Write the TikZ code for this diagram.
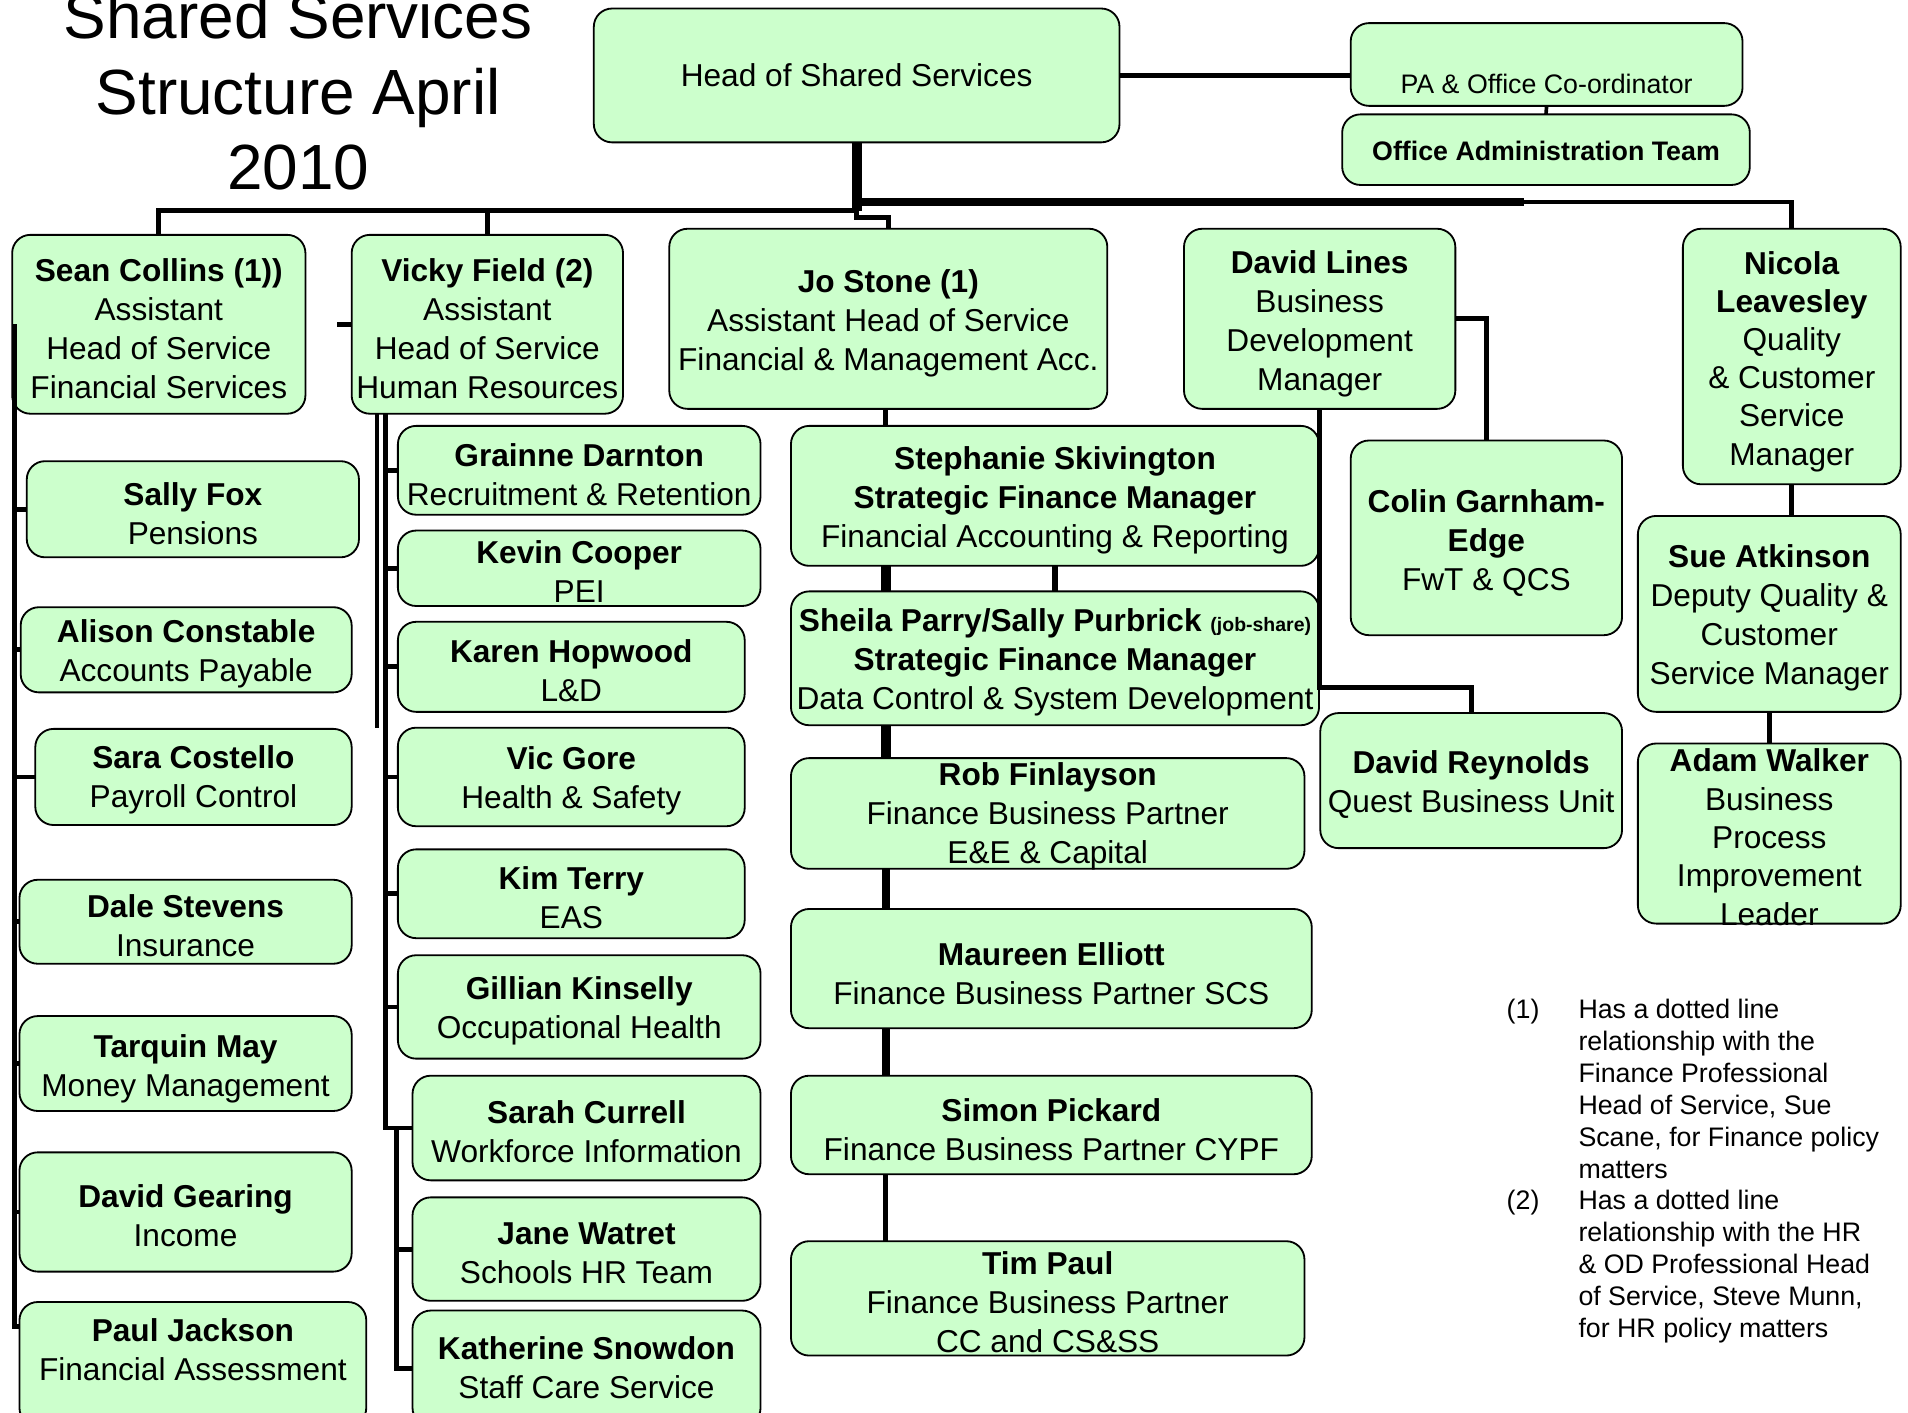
\documentclass[tikz,border=0pt]{standalone}
\usepackage{fontspec}
\setmainfont{Liberation Sans}
\usetikzlibrary{calc}
\definecolor{boxgreen}{RGB}{204,255,204}
\tikzset{
  box/.style={draw=black, line width=1.5pt, fill=boxgreen, rounded corners=15pt, inner sep=0pt, outer sep=0pt},
  txt/.style={align=center, inner sep=0pt, font=\fontsize{26}{32}\selectfont},
  small/.style={font=\fontsize{22}{26}\selectfont},
  conn/.style={line width=4pt},
  trunk/.style={line width=8pt},
  titletxt/.style={anchor=base, inner sep=0pt, font=\fontsize{52.5}{62}\selectfont},
  legend/.style={inner sep=0pt, font=\fontsize{22}{26.2}\selectfont},
}
\newcommand\obox[8][]{%
  \pgfmathsetmacro\obw{#5-#3}%
  \pgfmathsetmacro\obh{#6-#4}%
  \node[box, minimum width=\obw pt, minimum height=\obh pt] (#2) at ({(#3+#5)/2},{(#4+#6)/2}) {};
  \node[txt,#1] (#2-t) at ({(#3+#5)/2},{#7+3}) {#8};
}
\begin{document}
\begin{tikzpicture}[x=1pt,y=-1pt]
\useasboundingbox (0,0) rectangle (1568,1161);

% title
\node[titletxt] (t1) at (245,32) {Shared Services};
\node[titletxt] (t2) at (245,94) {Structure April};
\node[titletxt] (t3) at (245,156) {2010};

% top level
\obox{head}{488}{7}{920}{117}{59}{Head of Shared Services}
\obox[small]{pa}{1110}{19}{1432}{87}{66}{PA \& Office Co-ordinator}
\obox[small]{admin}{1103}{94}{1438}{152}{121}{\textbf{Office Administration Team}}

% second level
\obox{sean}{10}{193}{251}{340}{267}{\textbf{Sean Collins (1))}\\Assistant\\Head of Service\\Financial Services}
\obox{vicky}{289}{193}{512}{340}{267}{\textbf{Vicky Field (2)}\\Assistant\\Head of Service\\Human Resources}
\obox{jo}{550}{188}{910}{336}{263}{\textbf{Jo Stone (1)}\\Assistant Head of Service\\Financial \& Management Acc.}
\obox{dlines}{973}{188}{1196}{336}{263}{\textbf{David Lines}\\Business\\Development\\Manager}
\obox[font=\fontsize{26}{31.4}\selectfont]{nicola}{1383}{188}{1562}{398}{294}{\textbf{Nicola}\\\textbf{Leavesley}\\Quality\\\& Customer\\Service\\Manager}

% financial services column
\obox{sally}{22}{379}{295}{458}{419}{\textbf{Sally Fox}\\Pensions}
\obox{alison}{17}{499}{289}{569}{534}{\textbf{Alison Constable}\\Accounts Payable}
\obox{sara}{29}{599}{289}{678}{638}{\textbf{Sara Costello}\\Payroll Control}
\obox{dale}{16}{723}{289}{792}{758}{\textbf{Dale Stevens}\\Insurance}
\obox{tarquin}{16}{835}{289}{913}{875}{\textbf{Tarquin May}\\Money Management}
\obox{gearing}{16}{947}{289}{1045}{996}{\textbf{David Gearing}\\Income}
\obox{paul}{16}{1070}{301}{1172}{1106}{\textbf{Paul Jackson}\\Financial Assessment}

% HR column
\obox{grainne}{327}{350}{625}{423}{387}{\textbf{Grainne Darnton}\\Recruitment \& Retention}
\obox{kevin}{327}{436}{625}{498}{467}{\textbf{Kevin Cooper}\\PEI}
\obox{karen}{327}{511}{612}{585}{548}{\textbf{Karen Hopwood}\\L\&D}
\obox{vic}{327}{598}{612}{679}{639}{\textbf{Vic Gore}\\Health \& Safety}
\obox{kim}{327}{698}{612}{771}{735}{\textbf{Kim Terry}\\EAS}
\obox{gillian}{327}{785}{625}{870}{828}{\textbf{Gillian Kinselly}\\Occupational Health}
\obox{sarah}{339}{884}{625}{970}{927}{\textbf{Sarah Currell}\\Workforce Information}
\obox{jane}{339}{984}{625}{1069}{1027}{\textbf{Jane Watret}\\Schools HR Team}
\obox{katherine}{339}{1077}{625}{1172}{1121}{\textbf{Katherine Snowdon}\\Staff Care Service}

% finance column
\obox{steph}{650}{350}{1084}{465}{408}{\textbf{Stephanie Skivington}\\\textbf{Strategic Finance Manager}\\Financial Accounting \& Reporting}
\obox{sheila}{650}{486}{1084}{596}{541}{\textbf{Sheila Parry/Sally Purbrick} {\fontsize{16}{16}\selectfont\textbf{(job-share)}}\\\textbf{Strategic Finance Manager}\\Data Control \& System Development}
\obox{rob}{650}{623}{1072}{714}{668}{\textbf{Rob Finlayson}\\Finance Business Partner\\E\&E \& Capital}
\obox{maureen}{650}{747}{1078}{845}{797}{\textbf{Maureen Elliott}\\Finance Business Partner SCS}
\obox{simon}{650}{884}{1078}{965}{925}{\textbf{Simon Pickard}\\Finance Business Partner CYPF}
\obox{tim}{650}{1020}{1072}{1114}{1067}{\textbf{Tim Paul}\\Finance Business Partner\\CC and CS\&SS}

% business development / quality
\obox{colin}{1110}{362}{1333}{522}{443}{\textbf{Colin Garnham-}\\\textbf{Edge}\\FwT \& QCS}
\obox{dreyn}{1085}{586}{1333}{697}{642}{\textbf{David Reynolds}\\Quest Business Unit}
\obox{sue}{1346}{424}{1562}{585}{505}{\textbf{Sue Atkinson}\\Deputy Quality \&\\Customer\\Service Manager}
\obox[font=\fontsize{26}{31.5}\selectfont]{adam}{1346}{611}{1562}{759}{685}{\textbf{Adam Walker}\\Business\\Process\\Improvement\\Leader}

% ---- connectors ----
\coordinate (bar) at (704,173);
\coordinate (rbar) at (704,166);
\coordinate (rbarend) at (1252,166);
\draw[trunk] (head.south) -- (bar);
\draw[conn] (bar) -| (sean.north);
\draw[conn] (bar) -| (vicky.north);
\draw[conn] (bar) -- ++(0,6) -| (jo.north);
\draw[conn] (rbar) -| (nicola.north);
\draw[line width=6pt] (rbar) -- (rbarend);
\draw[conn] (head.east) -- (head.east -| pa.west);
\draw[line width=3pt] (pa.south) -- (admin.north);

% Sean's column
\coordinate (sx) at (12,0);
\draw[conn] (sean.west -| sx) |- ([yshift=31pt]paul.west);
\foreach \b in {sally,alison,sara,dale,tarquin,gearing}
  \draw[conn] (\b.west -| sx) -- (\b.west);
\draw[conn] (vicky.west) -- ([xshift=-12pt]vicky.west);

% Vicky's column
\coordinate (hx0) at (310,0);
\coordinate (hx) at (317,0);
\coordinate (hx2) at (326,0);
\draw[line width=3pt] (vicky.south -| hx0) -- (vic.north -| hx0);
\draw[conn] (vicky.south -| hx) |- (sarah.west);
\foreach \b in {grainne,kevin,karen,vic,kim,gillian}
  \draw[conn] (\b.west -| hx) -- (\b.west);
\draw[conn] (sarah.west -| hx2) |- (katherine.west);
\draw[conn] (jane.west -| hx2) -- (jane.west);

% Jo's column
\coordinate (jx) at (728,0);
\draw[conn] (jo.south -| jx) -- (steph.north -| jx);
\draw[trunk] (steph.south -| jx) -- (sheila.north -| jx);
\draw[line width=5pt] (steph.south) -- (sheila.north);
\draw[trunk] (sheila.south -| jx) -- (rob.north -| jx);
\draw[line width=6pt] (rob.south -| jx) -- (maureen.north -| jx);
\draw[line width=6pt] (maureen.south -| jx) -- (simon.north -| jx);
\draw[conn] (simon.south -| jx) -- (tim.north -| jx);

% David Lines
\draw[conn] (dlines.south) -- ++(0,229) -| (dreyn.north);
\draw[conn] (dlines.east) -| (colin.north);

% Nicola
\draw[conn] (nicola.south) -- (nicola.south |- sue.north);
\draw[conn] (sue.south) -- (adam.north);

% legend
\node[legend, anchor=base west] (n1) at (1238,837) {(1)};
\node[legend, anchor=base west] (n2) at (1238,994) {(2)};
\node[legend, anchor=north west, align=left] (notes) at (1297,821) {Has a dotted line\\relationship with the\\Finance Professional\\Head of Service, Sue\\Scane, for Finance policy\\matters\\Has a dotted line\\relationship with the HR\\\& OD Professional Head\\of Service, Steve Munn,\\for HR policy matters};
\end{tikzpicture}
\end{document}
